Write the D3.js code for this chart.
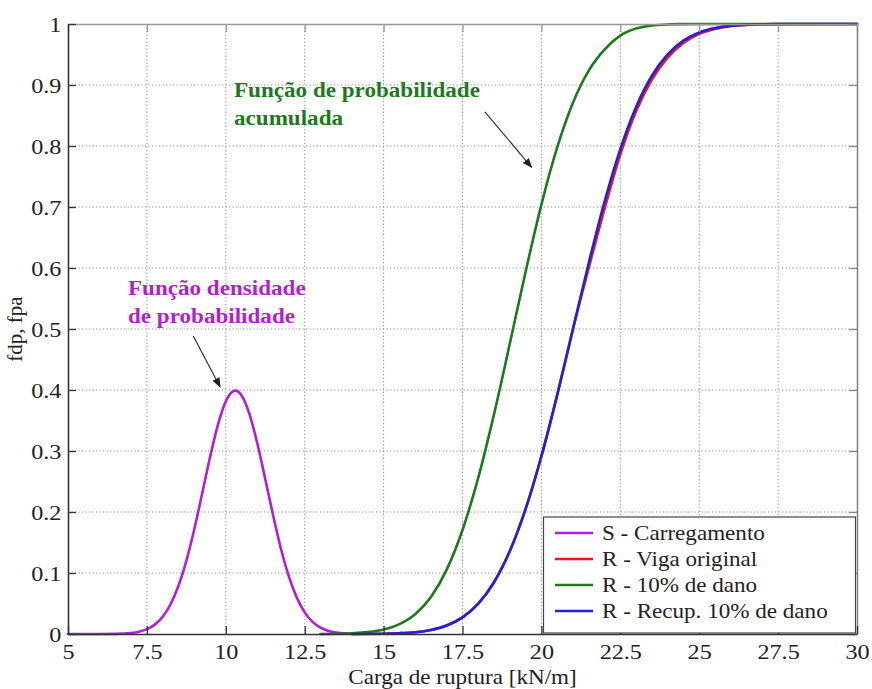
<!DOCTYPE html>
<html>
<head>
<meta charset="utf-8">
<script src="https://cdn.jsdelivr.net/npm/d3@7"></script>
<style>
  html, body { margin: 0; padding: 0; background: #fff; }
  svg { display: block; }
  text { font-family: "Liberation Serif", "Times New Roman", serif; }
</style>
</head>
<body>
<svg id="chart" width="872" height="689"></svg>
<script>
// ---------- data ----------
const xTicks = [5, 7.5, 10, 12.5, 15, 17.5, 20, 22.5, 25, 27.5, 30];
const xTickLabels = ["5", "7.5", "10", "12.5", "15", "17.5", "20", "22.5", "25", "27.5", "30"];
const yTicks = [0, 0.1, 0.2, 0.3, 0.4, 0.5, 0.6, 0.7, 0.8, 0.9, 1];
const yTickLabels = ["0", "0.1", "0.2", "0.3", "0.4", "0.5", "0.6", "0.7", "0.8", "0.9", "1"];

// S - Carregamento (density)
const sX = [5, 6, 6.5, 7, 7.25, 7.5, 7.75, 8, 8.25, 8.5, 8.75, 9, 9.25, 9.5, 9.75, 10, 10.25, 10.3, 10.5, 10.75, 11, 11.25, 11.5, 11.75, 12, 12.25, 12.5, 12.75, 13, 13.25, 13.5, 13.75, 14];
const sY = [0, 0, 0.0002, 0.0017, 0.0038, 0.0079, 0.0154, 0.0283, 0.0488, 0.079, 0.12, 0.1714, 0.2299, 0.2897, 0.3429, 0.3814, 0.3984, 0.3989, 0.391, 0.3605, 0.3123, 0.2541, 0.1942, 0.1394, 0.094, 0.0596, 0.0355, 0.0198, 0.0104, 0.0051, 0.0024, 0.001, 0.0004];

// R - Viga original (cumulative)
const rX = [14, 15, 15.5, 16, 16.5, 17, 17.5, 18, 18.5, 19, 19.5, 20, 20.5, 21, 21.5, 22, 22.5, 23, 23.5, 24, 24.5, 25, 25.5, 26, 26.5, 27, 27.5, 30];
const rY = [0.0001, 0.0005, 0.0013, 0.003, 0.0067, 0.0139, 0.0272, 0.0497, 0.0848, 0.1359, 0.205, 0.2914, 0.3917, 0.5, 0.6, 0.697, 0.786, 0.857, 0.909, 0.945, 0.969, 0.984, 0.992, 0.9965, 0.9985, 0.9995, 1, 1];

// R - 10% de dano (cumulative)
const gX = [13, 13.5, 14, 14.5, 15, 15.5, 16, 16.5, 17, 17.5, 18, 18.5, 19, 19.5, 20, 20.5, 21, 21.5, 22, 22.5, 23, 23.5, 24, 24.5, 25, 30];
const gY = [0.0001, 0.0004, 0.0012, 0.0031, 0.0073, 0.0162, 0.0325, 0.0608, 0.1056, 0.1705, 0.2563, 0.3605, 0.4761, 0.594, 0.704, 0.7976, 0.871, 0.9235, 0.9578, 0.981, 0.9925, 0.9975, 0.9993, 0.9998, 1, 1];

// R - Recup. 10% de dano (cumulative)
const bX = [14, 15, 15.5, 16, 16.5, 17, 17.5, 18, 18.5, 19, 19.5, 20, 20.5, 21, 21.5, 22, 22.5, 23, 23.5, 24, 24.5, 25, 25.5, 26, 26.5, 27, 27.5, 30];
const bY = [0.0001, 0.0005, 0.0013, 0.003, 0.0067, 0.0139, 0.0272, 0.0497, 0.0848, 0.1359, 0.205, 0.2914, 0.3917, 0.5, 0.6083, 0.7086, 0.795, 0.8641, 0.9152, 0.9503, 0.9728, 0.9861, 0.9933, 0.997, 0.9987, 0.9995, 0.9998, 1];

const seriesNames = ["S - Carregamento", "R - Viga original", "R - 10% de dano", "R - Recup. 10% de dano"];
const seriesColors = ["#b21fd2", "#f01818", "#1c7a1c", "#2020e0"];

const xLabel = "Carga de ruptura [kN/m]";
const yLabel = "fdp, fpa";

const annot1Lines = ["Função densidade", "de probabilidade"];
const annot2Lines = ["Função de probabilidade", "acumulada"];

// ---------- layout ----------
const svg = d3.select("#chart");
const pL = 68, pR = 857, pT = 24, pB = 634;
const x = d3.scaleLinear().domain([5, 30]).range([pL, pR]);
const y = d3.scaleLinear().domain([0, 1]).range([pB, pT]);
const SX = 1.1; // horizontal stretch of text seen in the reference

// grid
const grid = svg.append("g");
grid.selectAll("line.gx").data(xTicks.slice(1, -1)).join("line")
  .attr("x1", d => x(d)).attr("x2", d => x(d))
  .attr("y1", pT).attr("y2", pB)
  .attr("stroke", "#8a8a8a").attr("stroke-width", 1).attr("stroke-dasharray", "1.2,2.3");
grid.selectAll("line.gy").data(yTicks.slice(1, -1)).join("line")
  .attr("y1", d => y(d)).attr("y2", d => y(d))
  .attr("x1", pL).attr("x2", pR)
  .attr("stroke", "#8a8a8a").attr("stroke-width", 1).attr("stroke-dasharray", "1.2,2.3");

// axes
const axB = d3.axisBottom(x).tickValues(xTicks).tickFormat((d, i) => xTickLabels[i]).tickSizeInner(-8).tickSizeOuter(0).tickPadding(9);
const axL = d3.axisLeft(y).tickValues(yTicks).tickFormat((d, i) => yTickLabels[i]).tickSizeInner(-8).tickSizeOuter(0).tickPadding(6);
const axT = d3.axisTop(x).tickValues(xTicks).tickFormat("").tickSizeInner(-8).tickSizeOuter(0);
const axR = d3.axisRight(y).tickValues(yTicks).tickFormat("").tickSizeInner(-8).tickSizeOuter(0);

function styleAxis(col) {
  return g => {
    g.select(".domain").attr("stroke", col).attr("stroke-width", 1.6).attr("fill", "none");
    g.selectAll(".tick line").attr("stroke", col).attr("stroke-width", 1.3);
    g.selectAll(".tick text").attr("fill", "#222").style("font-size", "22px")
      .style("font-family", '"Liberation Serif", "Times New Roman", serif')
      .attr("transform", `scale(${SX},1)`);
  };
}

// curves
const line = d3.line().x(d => x(d[0])).y(d => y(d[1])).curve(d3.curveMonotoneX);
const series = [
  { xs: sX, ys: sY, c: seriesColors[0] },
  { xs: rX, ys: rY, c: seriesColors[1] },
  { xs: gX, ys: gY, c: seriesColors[2] },
  { xs: bX, ys: bY, c: seriesColors[3] }
];
const curves = svg.append("g");
series.forEach(s => {
  curves.append("path")
    .datum(s.xs.map((v, i) => [v, s.ys[i]]))
    .attr("fill", "none").attr("stroke", s.c).attr("stroke-width", 2.6)
    .attr("stroke-linejoin", "round").attr("stroke-linecap", "round")
    .attr("d", line);
});

svg.append("g").attr("transform", `translate(0,${pT})`).call(axT).call(styleAxis("#999"));
svg.append("g").attr("transform", `translate(${pR},0)`).call(axR).call(styleAxis("#888"));
svg.append("g").attr("transform", `translate(0,${pB})`).call(axB).call(styleAxis("#333"));
svg.append("g").attr("transform", `translate(${pL},0)`).call(axL).call(styleAxis("#333"));

// helper for horizontally stretched text
function stretchedText(px, py, size, txt, opts = {}) {
  const g = svg.append("g").attr("transform", `translate(${px},${py}) scale(${SX},1)`);
  const t = g.append("text").attr("x", 0).attr("y", 0)
    .attr("fill", opts.fill || "#222").style("font-size", size + "px")
    .attr("text-anchor", opts.anchor || "start");
  if (opts.bold) t.style("font-weight", "bold");
  t.text(txt);
  return t;
}

// axis labels
stretchedText((pL + pR) / 2, 684, 21, xLabel, { anchor: "middle" });
svg.append("text").attr("transform", `translate(22,${(pT + pB) / 2}) rotate(-90)`)
  .attr("text-anchor", "middle").attr("fill", "#222").style("font-size", "21px").text(yLabel);

// annotations
svg.append("defs").append("marker").attr("id", "arr")
  .attr("viewBox", "0 0 10 10").attr("refX", 9).attr("refY", 5)
  .attr("markerWidth", 10).attr("markerHeight", 10).attr("markerUnits", "userSpaceOnUse")
  .attr("orient", "auto")
  .append("path").attr("d", "M0,1 L10,5 L0,9 Z").attr("fill", "#222");

annot1Lines.forEach((t, i) => stretchedText(x(6.9), y(0.556) + i * 28, 21, t, { fill: "#b21fd2", bold: true }));
annot2Lines.forEach((t, i) => stretchedText(x(10.26), y(0.880) + i * 28, 21, t, { fill: "#1c7a1c", bold: true }));

svg.append("line").attr("x1", x(8.97)).attr("y1", y(0.4885)).attr("x2", x(9.82)).attr("y2", y(0.405))
  .attr("stroke", "#333").attr("stroke-width", 1.2).attr("marker-end", "url(#arr)");
svg.append("line").attr("x1", x(18.21)).attr("y1", y(0.856)).attr("x2", x(19.69)).attr("y2", y(0.765))
  .attr("stroke", "#333").attr("stroke-width", 1.2).attr("marker-end", "url(#arr)");

// legend
const lg = svg.append("g");
lg.append("rect").attr("x", 543.5).attr("y", 517).attr("width", 312).attr("height", 116)
  .attr("fill", "#fff").attr("stroke", "#444").attr("stroke-width", 1.2);
seriesNames.forEach((name, i) => {
  const cy = 533 + i * 26;
  lg.append("line").attr("x1", 555).attr("x2", 593).attr("y1", cy).attr("y2", cy)
    .attr("stroke", seriesColors[i]).attr("stroke-width", 2.6);
  stretchedText(602, cy + 7, 21, name);
});
</script>
</body>
</html>
